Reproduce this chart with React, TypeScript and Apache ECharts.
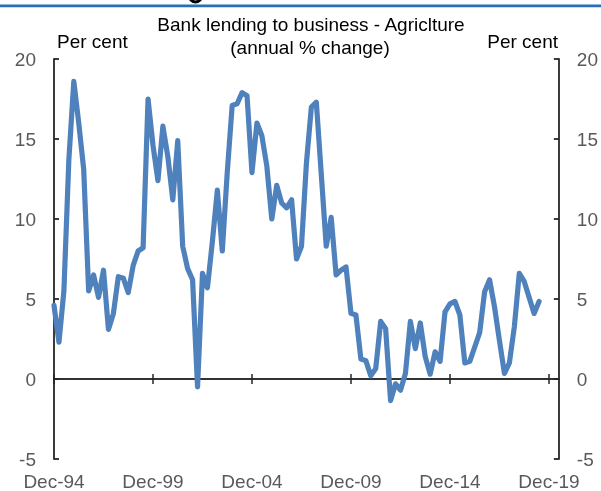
import React, { useEffect, useRef } from "react";
import * as echarts from "echarts";

// Quarterly categories Dec-94 .. Jun-20
const quarterMonths = ["Mar", "Jun", "Sep", "Dec"];
const categories: string[] = ["Dec-94"];
for (let y = 1995; y <= 2020; y++) {
  for (const m of quarterMonths) {
    if (y === 2020 && (m === "Sep" || m === "Dec")) continue;
    categories.push(`${m}-${String(y % 100).padStart(2, "0")}`);
  }
}

const tickLabels = ["Dec-94", "Dec-99", "Dec-04", "Dec-09", "Dec-14", "Dec-19"];

// Annual % change, quarterly from Dec-94
const agricultureLending = [
  4.6, 2.3, 5.5, 13.7, 18.6, 16.0, 13.1, 5.5, 6.5, 5.1,
  6.8, 3.1, 4.1, 6.4, 6.3, 5.4, 7.1, 8.0, 8.2, 17.5,
  14.6, 12.4, 15.8, 13.9, 11.2, 14.9, 8.3, 6.9, 6.2, -0.5,
  6.6, 5.7, 8.6, 11.8, 8.0, 12.9, 17.1, 17.2, 17.9, 17.7,
  12.9, 16.0, 15.2, 13.3, 10.0, 12.1, 11.0, 10.7, 11.2, 7.5,
  8.3, 13.5, 17.0, 17.3, 12.8, 8.3, 10.1, 6.5, 6.8, 7.0,
  4.1, 4.0, 1.25, 1.15, 0.2, 0.65, 3.6, 3.15, -1.35, -0.3,
  -0.7, 0.35, 3.6, 1.9, 3.5, 1.4, 0.3, 1.7, 1.1, 4.2,
  4.7, 4.85, 4.0, 1.0, 1.1, 2.0, 2.9, 5.45, 6.2, 4.5,
  2.4, 0.35, 1.0, 3.25, 6.6, 6.1, 5.1, 4.1, 4.85,
];

const FONT = "Liberation Sans, Arial, sans-serif";
const LABEL_COLOR = "#595959";
const AXIS_COLOR = "#262626";

export default function App() {
  const ref = useRef<HTMLDivElement>(null);
  useEffect(() => {
    if (!ref.current) return;
    const chart = echarts.init(ref.current, undefined, { renderer: "svg" });
    const yAxisBase = {
      type: "value" as const,
      min: -5,
      max: 20,
      interval: 5,
      splitLine: { show: false },
      axisLine: { show: true, lineStyle: { color: AXIS_COLOR, width: 1.8 } },
      axisTick: { show: true, inside: true, length: 5, lineStyle: { color: AXIS_COLOR, width: 1.8 } },
      axisLabel: { color: LABEL_COLOR, fontSize: 19, fontFamily: FONT, margin: 18 },
    };
    chart.setOption({
      animation: false,
      grid: { left: 54, right: 39, top: 59, bottom: 32, containLabel: false },
      graphic: [
        { type: "rect", shape: { x: 0, y: 4.5, width: 601, height: 2.8 }, style: { fill: "#2a6ebb" } },
        {
          type: "arc",
          shape: { cx: 195.5, cy: -4, r: 6, startAngle: 0, endAngle: Math.PI },
          style: { stroke: "#000", lineWidth: 3, fill: "none" },
        },
        {
          type: "text",
          x: 311,
          y: 24,
          style: {
            text: "Bank lending to business - Agriclture",
            fontSize: 19,
            fontFamily: FONT,
            fill: "#000",
            align: "center",
            verticalAlign: "middle",
          },
        },
        {
          type: "text",
          x: 310,
          y: 47,
          style: {
            text: "(annual % change)",
            fontSize: 19,
            fontFamily: FONT,
            fill: "#000",
            align: "center",
            verticalAlign: "middle",
          },
        },
        {
          type: "text",
          x: 57,
          y: 41,
          style: { text: "Per cent", fontSize: 19, fontFamily: FONT, fill: "#000", align: "left", verticalAlign: "middle" },
        },
        {
          type: "text",
          x: 558,
          y: 41,
          style: { text: "Per cent", fontSize: 19, fontFamily: FONT, fill: "#000", align: "right", verticalAlign: "middle" },
        },
      ],
      xAxis: [
        {
          type: "category",
          data: categories,
          boundaryGap: false,
          position: "bottom",
          axisLine: { show: true, onZero: true, lineStyle: { color: AXIS_COLOR, width: 1.5 } },
          axisTick: { show: true, inside: true, length: 5, interval: 19, lineStyle: { color: AXIS_COLOR, width: 1.5 } },
          axisLabel: { show: false },
          splitLine: { show: false },
        },
        {
          type: "category",
          data: categories,
          boundaryGap: false,
          position: "bottom",
          axisLine: { show: true, onZero: true, lineStyle: { color: AXIS_COLOR, width: 1.5 } },
          axisTick: { show: true, inside: false, length: 5, interval: 19, lineStyle: { color: AXIS_COLOR, width: 1.5 } },
          axisLabel: { show: false },
          splitLine: { show: false },
        },
        {
          type: "category",
          data: categories,
          boundaryGap: false,
          position: "bottom",
          axisLine: { show: false, onZero: false },
          axisTick: { show: false },
          splitLine: { show: false },
          axisLabel: {
            show: true,
            interval: 19,
            color: LABEL_COLOR,
            fontSize: 19,
            fontFamily: FONT,
            margin: 13,
            formatter: (v: string) => (tickLabels.includes(v) ? v : ""),
          },
        },
      ],
      yAxis: [
        { ...yAxisBase, position: "left" },
        { ...yAxisBase, position: "right" },
      ],
      series: [
        {
          type: "line",
          data: agricultureLending,
          xAxisIndex: 0,
          yAxisIndex: 0,
          symbol: "none",
          smooth: false,
          lineStyle: { color: "#4f81bd", width: 5.2, cap: "round", join: "round" },
        },
      ],
    });
    return () => chart.dispose();
  }, []);
  return <div ref={ref} style={{ position: "fixed", left: 0, top: 0, width: 601, height: 491 }} />;
}
